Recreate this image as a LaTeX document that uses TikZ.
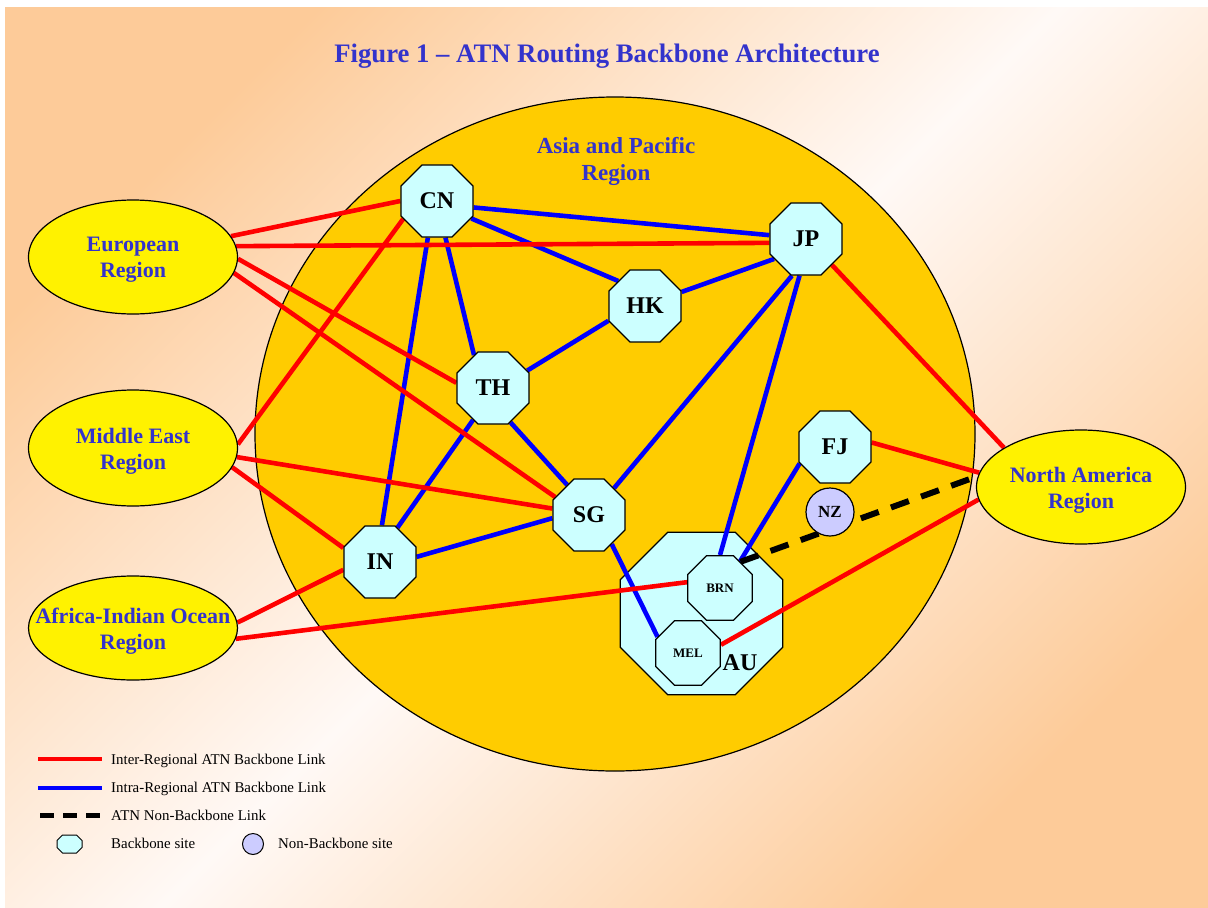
\documentclass[tikz,border=0pt]{standalone}
\usepackage{fontspec}
\setmainfont{Liberation Serif}
\usetikzlibrary{shapes.geometric}
\definecolor{bgor}{RGB}{253,203,153}
\definecolor{bglt}{RGB}{255,249,246}
\definecolor{apc}{RGB}{255,204,0}
\definecolor{cyn}{RGB}{204,255,255}
\definecolor{lav}{RGB}{204,204,255}
\definecolor{txtb}{RGB}{51,51,204}
\pgfdeclarelayer{back}
\pgfdeclarelayer{edges}
\pgfsetlayers{back,edges,main}
\tikzset{
  site/.style={regular polygon, regular polygon sides=8, minimum size=78pt, inner sep=0pt,
    draw=black, line width=1.3pt, fill=cyn, font=\fontsize{24}{28}\selectfont\bfseries},
  smallsite/.style={site, minimum size=70pt, font=\fontsize{13}{15}\selectfont\bfseries},
  nonsite/.style={circle, minimum size=48pt, inner sep=0pt, draw=black, line width=1.2pt,
    fill=lav, font=\fontsize{17}{20}\selectfont\bfseries},
  region/.style={ellipse, draw=black, line width=1.2pt, fill=yellow, inner sep=0pt,
    minimum width=209pt, minimum height=114pt},
  rlabel/.style={text=txtb, align=center, font=\fontsize{22}{26}\selectfont\bfseries},
  inter/.style={draw=red, line width=4.6pt},
  intra/.style={draw=blue, line width=4.6pt},
  nonbb/.style={draw=black, line width=6pt, dash pattern=on 19pt off 13pt},
  legtext/.style={anchor=base west, inner sep=0pt, font=\fontsize{14.9}{17}\selectfont}
}
\begin{document}
\begin{tikzpicture}[x=1pt,y=-1pt]
\useasboundingbox (0,0) rectangle (1208,908);
\begin{pgfonlayer}{back}
  \fill[white] (0,0) rectangle (1208,908);
  \fill[bgor] (5,7) rectangle (1230,930);
  \shade[top color=bgor, bottom color=bgor, middle color=bglt, shading angle=45] (5,7) rectangle (1212,912);
  \draw[fill=apc, line width=1.2pt] (615,434) ellipse [x radius=360, y radius=337];
  \node[site, minimum size=176pt] (AU) at (701.5,613.5) {};
  \node[font=\fontsize{24}{28}\selectfont\bfseries, inner sep=0pt] (AUt) at (740,663) {AU};
\end{pgfonlayer}

% title and region captions
\node[text=txtb, font=\fontsize{26.7}{32}\selectfont\bfseries] (title) at (607,56.5)
  {Figure 1 – ATN Routing Backbone Architecture};
\node[rlabel, font=\fontsize{23}{27}\selectfont\bfseries] (AP) at (616,161) {Asia and Pacific\\Region};

% regions
\node[region] (EU) at (133,257) {};
\node[region, minimum height=116pt] (ME) at (133,448) {};
\node[region, minimum height=104pt] (AF) at (133,628) {};
\node[region] (NA) at (1081,487) {};
\node[rlabel] (EUt) at (133,260) {European\\Region};
\node[rlabel] (MEt) at (133,451) {Middle East\\Region};
\node[rlabel] (AFt) at (133,631) {Africa-Indian Ocean\\Region};
\node[rlabel] (NAt) at (1081,490.5) {North America\\Region};

% sites
\node[site] (CN) at (437,201) {CN};
\node[site] (JP) at (806,239) {JP};
\node[site] (HK) at (645,306) {HK};
\node[site] (TH) at (493,388) {TH};
\node[site] (SG) at (589,515) {SG};
\node[site] (IN) at (380,562) {IN};
\node[site] (FJ) at (835,447) {FJ};
\node[smallsite] (BRN) at (720,588) {BRN};
\node[smallsite] (MEL) at (688,653) {MEL};
\node[nonsite] (NZ) at (830,512) {NZ};

\begin{pgfonlayer}{edges}
  % intra-regional
  \draw[intra] (CN.350) -- (JP.174);
  \draw[intra] (CN.333) -- (HK.137);
  \draw[intra] (CN.283) -- (TH.120);
  \draw[intra] (CN.256) -- (IN.87);
  \draw[intra] (JP.212) -- (HK.21);
  \draw[intra] (TH.27) -- (HK.202);
  \draw[intra] (JP.249) -- (SG.47);
  \draw[intra] (JP.260) -- (BRN.90);
  \draw[intra] (FJ.205) -- (BRN.53);
  \draw[intra] (TH.297) -- (SG.126);
  \draw[intra] (TH.238) -- (IN.63);
  \draw[intra] (IN.8) -- (SG.185);
  \draw[intra] (SG.308) -- (MEL.152);
  % inter-regional
  \draw[inter] (EU.12) -- (CN.180);
  \draw[inter] (EU.6) -- (JP.186);
  \draw[inter] (EU.359) -- (TH.172);
  \draw[inter] (EU.351) -- (SG.152);
  \draw[inter] (ME.2) -- (CN.208);
  \draw[inter] (ME.355) -- (SG.170);
  \draw[inter] (ME.349) -- (IN.159);
  \draw[inter] (AF.3) -- (IN.192);
  \draw[inter] (AF.354) -- (BRN.170);
  \draw[inter] (JP.315) -- (NA.153);
  \draw[inter] (FJ.7) -- (NA.172);
  \draw[inter] (MEL.14) -- (NA.187);
  % non-backbone
  \draw[nonbb] (BRN.52) -- (NA.174);
\end{pgfonlayer}

% legend
\coordinate (l1a) at (38,759); \coordinate (l1b) at (102,759);
\coordinate (l2a) at (38,788); \coordinate (l2b) at (102,788);
\coordinate (l3a) at (40,815); \coordinate (l3b) at (102,815);
\draw[draw=red, line width=4pt] (l1a) -- (l1b);
\draw[draw=blue, line width=4pt] (l2a) -- (l2b);
\draw[draw=black, line width=5pt, dash pattern=on 14pt off 9pt] (l3a) -- (l3b);
\draw[fill=cyn, line width=1pt] (57,840.5) -- (62.5,835) -- (76.5,835) -- (82,840.5) -- (82,847.5) -- (76.5,853) -- (62.5,853) -- (57,847.5) -- cycle;
\draw[fill=lav, line width=1pt] (253,844) circle [radius=10.5];
\node[legtext] (L1) at (111,764) {Inter-Regional ATN Backbone Link};
\node[legtext] (L2) at (111,792) {Intra-Regional ATN Backbone Link};
\node[legtext] (L3) at (111,820) {ATN Non-Backbone Link};
\node[legtext] (L4) at (111,848) {Backbone site};
\node[legtext] (L5) at (278,848) {Non-Backbone site};
\end{tikzpicture}
\end{document}
